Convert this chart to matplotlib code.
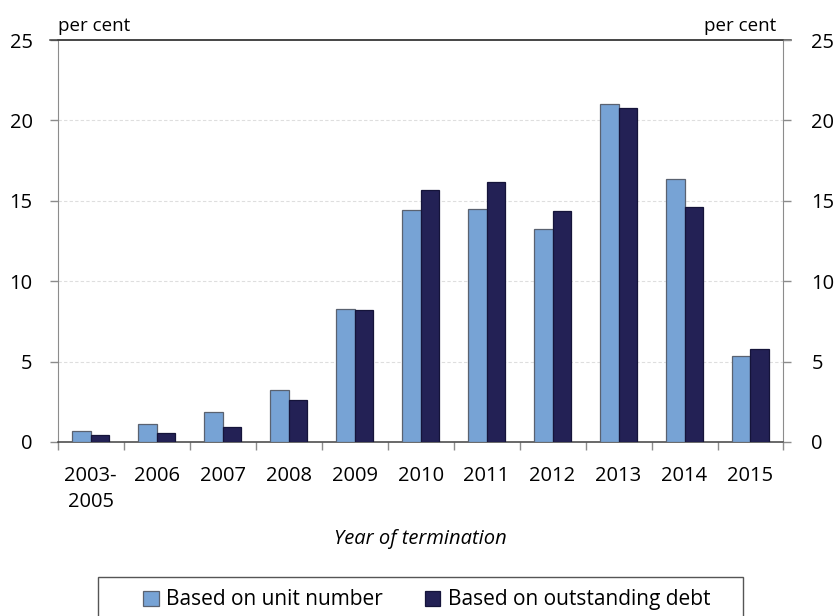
import numpy as np
import matplotlib.pyplot as plt
from matplotlib.patches import Rectangle

plt.rcParams['font.family'] = ['Open Sans', 'DejaVu Sans']

# Share of loans terminated, per cent
years = ['2003-\n2005', '2006', '2007', '2008', '2009', '2010',
         '2011', '2012', '2013', '2014', '2015']
unit_number = [0.68, 1.1, 1.85, 3.25, 8.27, 14.45, 14.5, 13.25, 21.05, 16.33, 5.35]
outstanding_debt = [0.42, 0.55, 0.95, 2.63, 8.2, 15.7, 16.2, 14.35, 20.78, 14.62, 5.76]
yticks = [0, 5, 10, 15, 20, 25]

light = '#77a3d5'
dark = '#232155'
spine_grey = '#8c8c8c'

fig = plt.figure(figsize=(8.35, 6.16), dpi=100)
ax = fig.add_axes([0.0691, 0.2825, 0.8692, 0.6525])

x = np.arange(len(years))
w = 0.28
ax.bar(x - w/2, unit_number, w, color=light, edgecolor='#5a6270', linewidth=0.9,
       label='Based on unit number', zorder=3)
ax.bar(x + w/2, outstanding_debt, w, color=dark, edgecolor='#15143a', linewidth=0.9,
       label='Based on outstanding debt', zorder=3)

ax.set_xlim(-0.5, len(years) - 0.5)
ax.set_ylim(0, 25)
ax.set_yticks(yticks)
ax.set_yticklabels([str(v) for v in yticks])
for v in yticks[1:-1]:
    ax.axhline(v, color='#dedede', linestyle=(0, (3, 2)), linewidth=0.8, zorder=1)

# ticks between categories, labels at centres
ax.set_xticks(np.arange(-0.5, len(years)), minor=True)
ax.tick_params(axis='x', which='minor', length=6, width=1, color=spine_grey, direction='out')
ax.set_xticks(x, minor=False)
ax.set_xticklabels(years, fontsize=14.5, linespacing=1.45)
ax.tick_params(axis='x', which='major', length=0, pad=17)

ax.tick_params(axis='y', length=6, width=1, color=spine_grey, pad=12, labelsize=14.5)

ax.spines['left'].set_color(spine_grey)
ax.spines['right'].set_color(spine_grey)
ax.spines['top'].set_color('#404040')
ax.spines['bottom'].set_color('#404040')
ax.spines['top'].set_linewidth(1.1)
ax.spines['bottom'].set_linewidth(1.1)

ax2 = ax.twinx()
ax2.set_ylim(0, 25)
ax2.set_yticks(yticks)
ax2.set_yticklabels([str(v) for v in yticks])
ax2.tick_params(axis='y', length=6, width=1, color=spine_grey, pad=14, labelsize=14.5)
for s in ax2.spines.values():
    s.set_visible(False)

# extend the top line over the tick marks
ax.plot([-0.62, len(years) - 0.38], [25, 25], color='#404040', linewidth=1.1,
        clip_on=False, zorder=5)

ax.text(0.0, 1.012, 'per cent', transform=ax.transAxes, fontsize=13.5,
        ha='left', va='bottom')
ax.text(0.99, 1.012, 'per cent', transform=ax.transAxes, fontsize=13.5,
        ha='right', va='bottom')

ax.set_xlabel('Year of termination', fontsize=14.5, style='italic', labelpad=12)

# legend box runs off the bottom edge, as in the original
fig.patches.append(Rectangle((0.1174, -0.02), 0.7725, 0.0833,
                             transform=fig.transFigure, fill=False,
                             edgecolor='#555555', linewidth=1.0))
fig.legend(loc='center', bbox_to_anchor=(0.511, 0.026), ncol=2, frameon=False,
           fontsize=15, handlelength=0.75, handleheight=0.75,
           handletextpad=0.35, columnspacing=2.0)

fig.savefig('out.png', dpi=100)
